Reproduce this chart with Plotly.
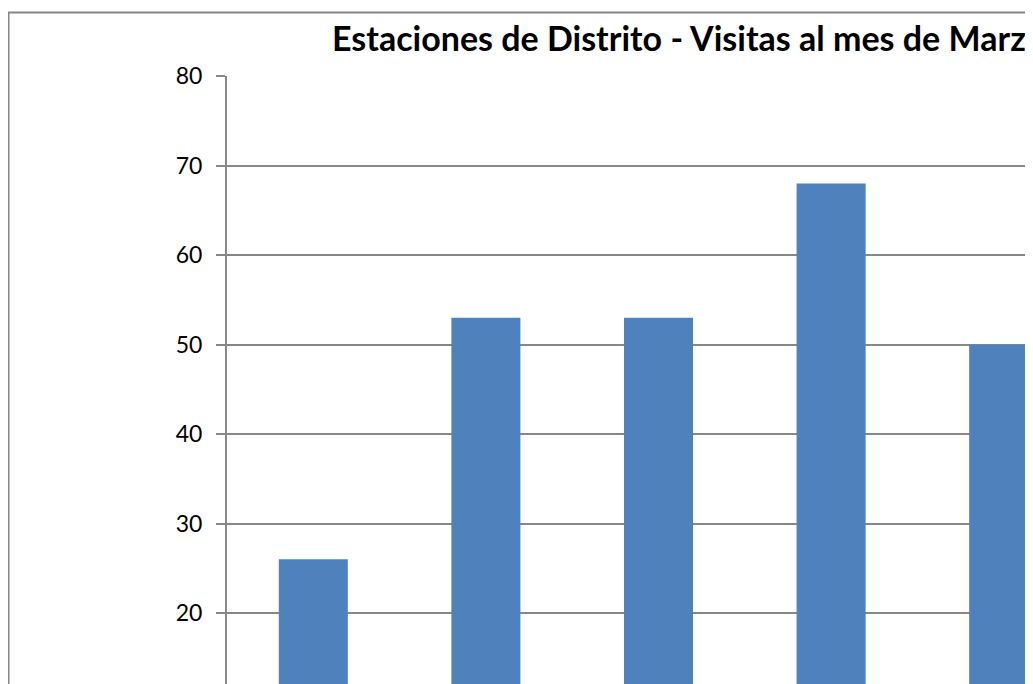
import plotly.graph_objects as go

# Data
categorias = ["Estación 1", "Estación 2", "Estación 3", "Estación 4", "Estación 5"]
visitas = [26, 53, 53, 68, 50]
titulo = "Estaciones de Distrito - Visitas al mes de Marzo"
y_ticks = [0, 10, 20, 30, 40, 50, 60, 70, 80]

BAR_COLOR = "#4F81BD"
GRID = "#878787"
FONT = "Lato, 'Open Sans', sans-serif"

W, H = 1393, 850
L, T, PLOT_H = 219, 68, 716
PLOT_W = 863
R = W - L - PLOT_W
B = H - T - PLOT_H

fig = go.Figure(
    go.Bar(
        x=categorias,
        y=visitas,
        marker=dict(color=BAR_COLOR, line=dict(width=0)),
        width=0.4,
    )
)

def px_x(px):
    return (px - L) / PLOT_W

def px_y(px):
    return (T + PLOT_H - px) / PLOT_H

fig.update_layout(
    width=W,
    height=H,
    margin=dict(l=L, r=R, t=T, b=B, pad=0),
    paper_bgcolor="white",
    plot_bgcolor="white",
    showlegend=False,
    font=dict(family=FONT, color="black", size=23),
    bargap=0.6,
)

fig.update_yaxes(
    range=[0, 80],
    tickvals=y_ticks,
    showgrid=True,
    gridcolor=GRID,
    gridwidth=2,
    showline=True,
    linecolor=GRID,
    linewidth=2,
    ticks="outside",
    ticklen=9,
    tickwidth=2,
    tickcolor=GRID,
    ticklabelstandoff=9,
    tickfont=dict(family=FONT, size=23, color="black"),
    zeroline=False,
)
fig.update_xaxes(
    showline=True,
    linecolor=GRID,
    linewidth=2,
    ticks="outside",
    tickcolor=GRID,
    tickfont=dict(family=FONT, size=20, color="black"),
    range=[-0.5, len(categorias) - 0.5],
)

# Chart-area border
fig.add_shape(
    type="rect",
    xref="paper", yref="paper",
    x0=px_x(0.5), x1=px_x(1392), y0=px_y(845), y1=px_y(4.5),
    line=dict(color=GRID, width=2),
    fillcolor="rgba(0,0,0,0)",
    layer="below",
)

fig.add_annotation(
    text="<b>" + titulo + "</b>",
    xref="paper", yref="paper",
    x=px_x(322), y=px_y(30),
    xanchor="left", yanchor="middle",
    showarrow=False,
    font=dict(family=FONT, size=34, color="black"),
)

fig.write_html("out.html")
